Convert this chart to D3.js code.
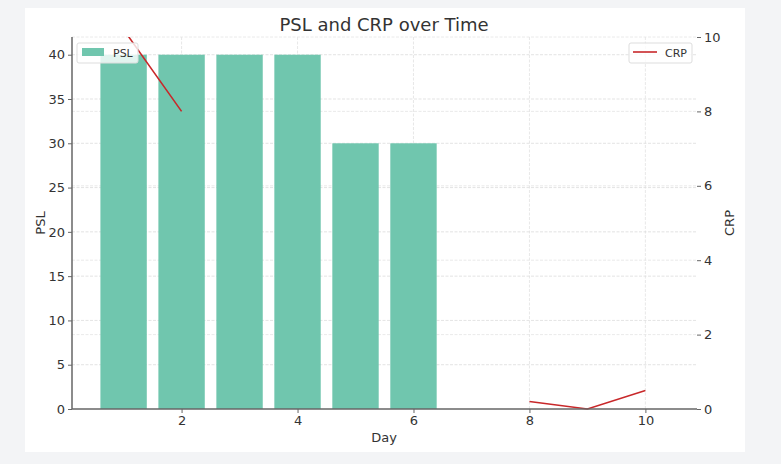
<!DOCTYPE html>
<html><head><meta charset="utf-8">
<script src="https://cdn.jsdelivr.net/npm/d3@7/dist/d3.min.js"></script>
<style>
html,body{margin:0;padding:0;background:#f3f4f6;}
svg{display:block;font-family:"DejaVu Sans",sans-serif;}
</style></head>
<body>
<script>
const days = [1,2,3,4,5,6,7,8,9,10];
const psl = [40,40,40,40,30,30,0,0,0,0];
const crp = [10.2,8.0,null,null,null,null,null,0.2,0.0,0.5];
const xTicks = [2,4,6,8,10];
const pslTicks = [0,5,10,15,20,25,30,35,40];
const crpTicks = [0,2,4,6,8,10];

const W=781,H=464;
const svg=d3.select("body").append("svg").attr("width",W).attr("height",H);
svg.append("rect").attr("x",25).attr("y",8).attr("width",720).attr("height",444).attr("fill","#fff");

const L=72,R=697,T=37,B=409;
const bw=0.8;
const xmin=d3.min(days)-bw/2, xmax=d3.max(days)+bw/2, pad=(xmax-xmin)*0.05;
const x=d3.scaleLinear().domain([xmin-pad,xmax+pad]).range([L,R]);
const y1=d3.scaleLinear().domain([0,d3.max(psl)*1.05]).range([B,T]);
const y2=d3.scaleLinear().domain([0,10]).range([B,T]);

// grid
const g=svg.append("g");
g.selectAll(".gx").data(xTicks).join("line").attr("x1",d=>x(d)).attr("x2",d=>x(d)).attr("y1",T).attr("y2",B)
 .attr("stroke","#e2e2e2").attr("stroke-width",0.8).attr("stroke-dasharray","3,1.5");
g.selectAll(".gy1").data(pslTicks.slice(1)).join("line").attr("x1",L).attr("x2",R).attr("y1",d=>y1(d)).attr("y2",d=>y1(d))
 .attr("stroke","#dcdcdc").attr("stroke-width",0.8).attr("stroke-dasharray","3,1.5");
g.selectAll(".gy2").data(crpTicks.slice(1)).join("line").attr("x1",L).attr("x2",R).attr("y1",d=>y2(d)).attr("y2",d=>y2(d))
 .attr("stroke","#e4e4e4").attr("stroke-width",0.8).attr("stroke-dasharray","3,1.5");

// bars
svg.append("g").selectAll("rect").data(days.map((d,i)=>({d,v:psl[i]}))).join("rect")
 .attr("x",d=>x(d.d-bw/2)).attr("width",d=>x(d.d+bw/2)-x(d.d-bw/2))
 .attr("y",d=>y1(d.v)).attr("height",d=>B-y1(d.v)).attr("fill","#70c6ae");

// line
svg.append("clipPath").attr("id","clip").append("rect").attr("x",L).attr("y",T).attr("width",R-L).attr("height",B-T+2);
const line=d3.line().defined(d=>d.v!==null).x(d=>x(d.d)).y(d=>y2(d.v));
svg.append("path").datum(days.map((d,i)=>({d,v:crp[i]}))).attr("d",line).attr("clip-path","url(#clip)")
 .attr("fill","none").attr("stroke","#c8282a").attr("stroke-width",1.6);

// axes
const ax=svg.append("g").attr("transform",`translate(0,${B})`).call(d3.axisBottom(x).tickValues(xTicks).tickSize(4).tickPadding(3));
const ay1=svg.append("g").attr("transform",`translate(${L},0)`).call(d3.axisLeft(y1).tickValues(pslTicks).tickSize(4).tickPadding(3));
const ay2=svg.append("g").attr("transform",`translate(${R},0)`).call(d3.axisRight(y2).tickValues(crpTicks).tickSize(4).tickPadding(3));
[ax,ay1,ay2].forEach(a=>{
  a.selectAll("text").attr("font-size",13).attr("fill","#333").attr("font-family","DejaVu Sans");
  a.selectAll(".tick line").attr("stroke","#666");
  a.select(".domain").attr("stroke","#666").attr("stroke-width",1.5);
});
ax.select(".domain").attr("d",`M${L},0H${R}`);
ay1.select(".domain").attr("d",`M0,${T}V${B}`);
ay2.select(".domain").remove();

// labels
svg.append("text").attr("x",384).attr("y",31).attr("text-anchor","middle").attr("font-size",18).attr("fill","#333").text("PSL and CRP over Time");
svg.append("text").attr("x",384).attr("y",442).attr("text-anchor","middle").attr("font-size",13).attr("fill","#333").text("Day");
svg.append("text").attr("transform",`translate(45,${(T+B)/2}) rotate(-90)`).attr("text-anchor","middle").attr("font-size",13).attr("fill","#333").text("PSL");
svg.append("text").attr("transform",`translate(734,${(T+B)/2}) rotate(-90)`).attr("text-anchor","middle").attr("font-size",13).attr("fill","#333").text("CRP");

// legends
const lg1=svg.append("g");
lg1.append("rect").attr("x",77).attr("y",43).attr("width",61).attr("height",20).attr("rx",2).attr("fill","#fff").attr("fill-opacity",0.8).attr("stroke","#ddd");
lg1.append("rect").attr("x",82).attr("y",48).attr("width",22).attr("height",8).attr("fill","#70c6ae");
lg1.append("text").attr("x",113).attr("y",57).attr("font-size",11).attr("fill","#333").text("PSL");
const lg2=svg.append("g");
lg2.append("rect").attr("x",629).attr("y",43).attr("width",63).attr("height",20).attr("rx",2).attr("fill","#fff").attr("fill-opacity",0.8).attr("stroke","#ddd");
lg2.append("line").attr("x1",633).attr("x2",657).attr("y1",52).attr("y2",52).attr("stroke","#c8282a").attr("stroke-width",1.6);
lg2.append("text").attr("x",665).attr("y",57).attr("font-size",11).attr("fill","#333").text("CRP");
</script>
</body></html>
